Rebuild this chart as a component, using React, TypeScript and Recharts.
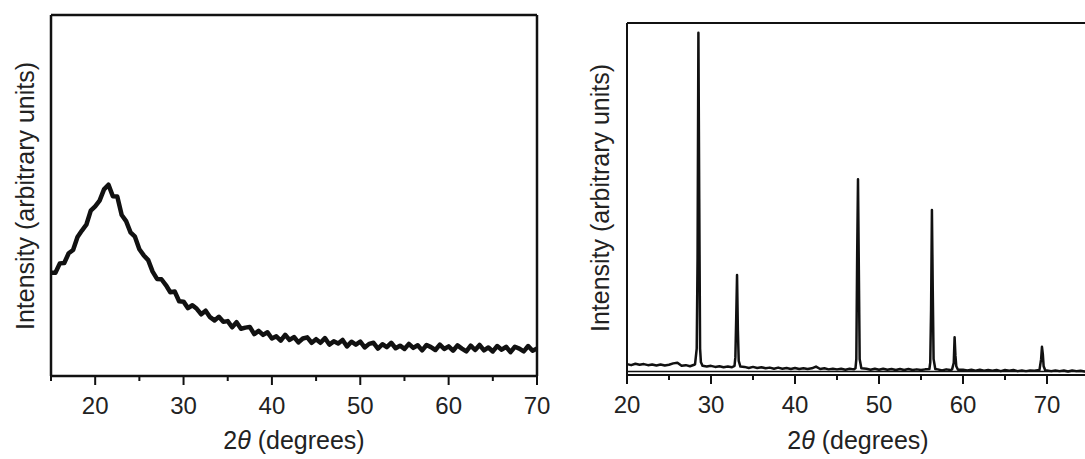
import { LineChart, Line, XAxis, YAxis, ReferenceLine } from 'recharts';

// left panel: amorphous scan, 15–70° in 0.5° steps
const leftStart = 15;
const leftStep = 0.5;
const leftIntensity = [
    28.6, 28.6, 31.2, 31.3, 34.0, 34.9, 38.5, 40.3, 41.9, 45.8,
    47.0, 48.6, 51.7, 53.0, 49.8, 49.7, 44.6, 42.9, 39.8, 38.6,
    35.1, 33.4, 32.1, 28.9, 26.9, 26.8, 25.2, 23.2, 23.4, 20.7,
    20.6, 18.8, 19.6, 18.6, 17.1, 18.1, 16.3, 15.4, 16.4, 15.0,
    15.2, 13.5, 14.9, 13.1, 13.4, 13.6, 11.6, 12.5, 11.4, 12.1,
    10.4, 11.0, 9.8, 11.4, 10.0, 10.8, 9.3, 10.4, 10.7, 9.2,
    10.2, 9.2, 10.5, 8.7, 9.6, 9.0, 10.0, 8.2, 9.5, 8.7,
    9.5, 7.9, 8.9, 9.2, 7.6, 8.8, 8.0, 9.2, 7.7, 8.4,
    7.5, 8.9, 7.8, 8.5, 7.1, 8.6, 8.0, 7.2, 8.7, 7.5,
    8.2, 7.0, 8.5, 7.6, 6.8, 8.4, 7.2, 8.6, 7.1, 7.9,
    6.8, 8.3, 7.3, 8.1, 6.6, 8.1, 7.6, 6.8, 8.3, 7.0,
    7.6,
];
const leftTicks = [15, 20, 25, 30, 35, 40, 45, 50, 55, 60, 65, 70];

// right panel: crystalline scan, baseline + peaks as [2theta, intensity]
const rightBaseline: [number, number][] = [
    [20, 3.1], [20.5, 2.8], [21, 3.2], [21.5, 2.9], [22, 3.1], [22.5, 2.8], [23, 3.0], [23.5, 2.7],
    [24, 3.0], [24.5, 2.7], [25, 2.9], [25.5, 3.3], [26, 3.5], [26.5, 2.6], [27, 2.8], [27.5, 2.5],
    [28, 2.9], [29.5, 2.4], [30, 2.6], [30.5, 2.3], [31, 2.5], [31.5, 2.2], [32, 2.4], [32.5, 2.2],
    [34, 2.3], [34.5, 2.0], [35, 2.3], [35.5, 2.0], [36, 2.2], [36.5, 1.9], [37, 2.1], [37.5, 1.8],
    [38, 2.1], [38.5, 1.8], [39, 2.0], [39.5, 1.7], [40, 2.0], [40.5, 1.7], [41, 1.9], [41.5, 1.7],
    [42, 1.9], [42.5, 2.4], [43, 1.7], [43.5, 1.9], [44, 1.6], [44.5, 1.8], [45, 1.6], [45.5, 1.8],
    [46, 1.5], [46.5, 1.8], [47, 1.6], [48.5, 1.8], [49, 1.5], [49.5, 1.8], [50, 1.5], [50.5, 1.8],
    [51, 1.5], [51.5, 1.7], [52, 1.4], [52.5, 1.7], [53, 1.4], [53.5, 1.7], [54, 1.4], [54.5, 1.6],
    [55, 1.4], [55.5, 1.6], [57, 1.6], [57.5, 1.3], [58, 1.6], [58.5, 1.4], [60, 1.5], [60.5, 1.3],
    [61, 1.5], [61.5, 1.2], [62, 1.5], [62.5, 1.2], [63, 1.4], [63.5, 1.2], [64, 1.4], [64.5, 1.1],
    [65, 1.4], [65.5, 1.2], [66, 1.4], [66.5, 1.1], [67, 1.3], [67.5, 1.1], [68, 1.3], [68.5, 1.2],
    [70, 1.3], [70.5, 1.1], [71, 1.3], [71.5, 1.1], [72, 1.3], [72.5, 1.0], [73, 1.3], [73.5, 1.1],
    [74, 1.2], [74.5, 1.0], [75, 1.2],
];
const peak28: [number, number][] = [[28.1, 3.0], [28.3, 7.5], [28.4, 33], [28.5, 97.2], [28.6, 50], [28.7, 7.5], [28.8, 3.6], [29, 2.6]];
const peak33: [number, number][] = [[32.8, 2.6], [32.9, 5], [33, 16], [33.1, 28.4], [33.2, 12.8], [33.3, 4], [33.5, 2.4]];
const peak47: [number, number][] = [[47.2, 1.9], [47.3, 4.5], [47.4, 33.6], [47.5, 55.6], [47.6, 29.8], [47.7, 4.5], [47.9, 1.9]];
const peak56: [number, number][] = [[56, 1.7], [56.1, 3.5], [56.2, 18.5], [56.3, 46.9], [56.4, 24], [56.5, 4.5], [56.7, 1.7]];
const peak59: [number, number][] = [[58.7, 1.6], [58.9, 3.5], [59, 10.7], [59.1, 5.5], [59.2, 2.5], [59.4, 1.5]];
const peak69: [number, number][] = [[69.1, 1.4], [69.3, 4.5], [69.4, 8.0], [69.5, 6.0], [69.6, 2.5], [69.8, 1.3]];
const rightTicks = [20, 25, 30, 35, 40, 45, 50, 55, 60, 65, 70, 75];

const leftData = leftIntensity.map((v, i) => ({ x: leftStart + i * leftStep, y: v }));
const rightData = [...rightBaseline, ...peak28, ...peak33, ...peak47, ...peak56, ...peak59, ...peak69]
    .sort((a, b) => a[0] - b[0])
    .map(([x, y]) => ({ x, y }));

const FONT = '"Liberation Sans", Arial, Helvetica, sans-serif';
const INK = '#111';
const TEXT = '#222';

const AxisTick = (props: any) => {
    const { x, y, payload } = props;
    const v = payload.value;
    const major = v % 10 === 0;
    return (
        <g>
            <line x1={x} x2={x} y1={y} y2={y + (major ? 9 : 5)} stroke={INK} strokeWidth={2} />
            {major && (
                <text x={x} y={y + 38} textAnchor="middle" fontSize={24} fill={TEXT} fontFamily={FONT}>{v}</text>
            )}
        </g>
    );
};

const XTitle = ({ x, y }: { x: number; y: number }) => (
    <text x={x} y={y} textAnchor="middle" fontSize={25} fill={TEXT} fontFamily={FONT}>
        2<tspan fontStyle="italic">θ</tspan> (degrees)
    </text>
);

const YTitle = ({ x, y }: { x: number; y: number }) => (
    <text x={x} y={y} transform={`rotate(-90, ${x}, ${y})`} textAnchor="middle" dominantBaseline="central"
        fontSize={25} fill={TEXT} fontFamily={FONT}>
        Intensity (arbitrary units)
    </text>
);

export default function App() {
    return (
        <div style={{ position: 'absolute', left: 0, top: 0, width: 1085, height: 459, overflow: 'hidden', background: '#fff' }}>
            <div style={{ position: 'absolute', left: 0, top: 0 }}>
                <LineChart width={560} height={459} data={leftData} margin={{ top: 15, right: 23, left: 0, bottom: 13 }}>
                    <XAxis dataKey="x" type="number" domain={[15, 70]} ticks={leftTicks} interval={0}
                        height={70} tickSize={0} tickMargin={0} tickLine={false} tick={<AxisTick />}
                        axisLine={{ stroke: INK, strokeWidth: 2.5 }} />
                    <YAxis type="number" domain={[0, 100]} width={51} tick={false} tickLine={false}
                        axisLine={{ stroke: INK, strokeWidth: 2.5 }} />
                    <ReferenceLine y={100} stroke={INK} strokeWidth={2.5} />
                    <ReferenceLine x={70} stroke={INK} strokeWidth={2.5} />
                    <Line type="linear" dataKey="y" stroke={INK} strokeWidth={4.5} dot={false}
                        strokeLinejoin="round" isAnimationActive={false} />
                    <XTitle x={294} y={449} />
                    <YTitle x={25} y={196} />
                </LineChart>
            </div>
            <div style={{ position: 'absolute', left: 560, top: 0 }}>
                <LineChart width={540} height={459} data={rightData} margin={{ top: 23, right: 11, left: 0, bottom: 14 }}>
                    <XAxis dataKey="x" type="number" domain={[20, 75]} ticks={rightTicks} interval={0}
                        height={70} tickSize={0} tickMargin={0} tickLine={false} tick={<AxisTick />}
                        axisLine={{ stroke: INK, strokeWidth: 2 }} />
                    <YAxis type="number" domain={[0, 100]} width={67} tick={false} tickLine={false}
                        axisLine={{ stroke: INK, strokeWidth: 2 }} />
                    <ReferenceLine y={100} stroke={INK} strokeWidth={2} />
                    <ReferenceLine y={1} stroke={INK} strokeWidth={1.5} />
                    <Line type="linear" dataKey="y" stroke={INK} strokeWidth={2.5} dot={false}
                        strokeLinejoin="round" isAnimationActive={false} />
                    <XTitle x={298} y={449} />
                    <YTitle x={40} y={198} />
                </LineChart>
            </div>
        </div>
    );
}
